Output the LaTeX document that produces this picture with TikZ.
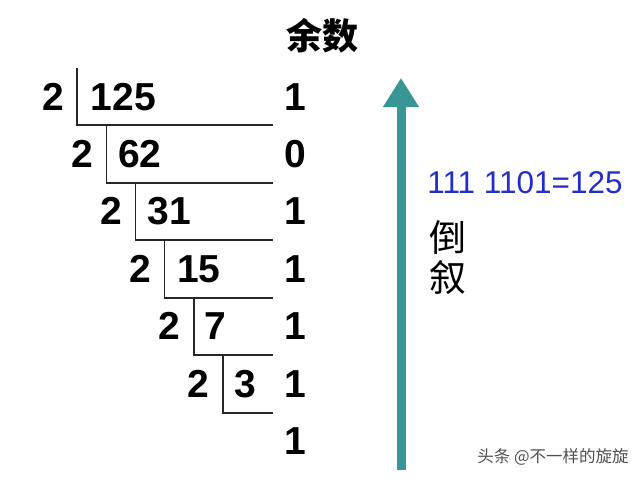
\documentclass[tikz,border=0pt]{standalone}
\usepackage{fontspec}
\setmainfont{Liberation Sans}
\newfontfamily\cjk{Noto Sans CJK SC}
\usetikzlibrary{arrows.meta}
\definecolor{arrowteal}{RGB}{58,150,148}
\definecolor{numblue}{RGB}{35,45,205}
\definecolor{wmgray}{RGB}{80,80,80}
\tikzset{
  big/.style={font=\fontsize{39}{39}\selectfont\bfseries, inner sep=0pt, anchor=base},
  rule/.style={line width=1.4pt, draw=black!85},
}
\begin{document}
\begin{tikzpicture}[x=1pt,y=-1pt]
\useasboundingbox (0,0) rectangle (640,480);
% title
\node[inner sep=0pt, font=\cjk\bfseries\fontsize{36}{36}\selectfont] (title) at (322,36) {余数};
% divisors
\foreach \i in {0,...,5} {
  \node[big] (d\i) at ({53+29*\i},{110+57.4*\i}) {2};
}
% dividends
\node[big] (q0) at (123.5,110) {125};
\node[big] (q1) at (140,167.4) {62};
\node[big] (q2) at (169.5,224.8) {31};
\node[big] (q3) at (199,282.2) {15};
\node[big] (q4) at (215.5,339.6) {7};
\node[big] (q5) at (245.5,397) {3};
% remainders
\node[big] (r0) at (295,110) {1};
\node[big] (r1) at (295,167.4) {0};
\node[big] (r2) at (295,224.8) {1};
\node[big] (r3) at (295,282.2) {1};
\node[big] (r4) at (295,339.6) {1};
\node[big] (r5) at (295,397) {1};
\node[big] (r6) at (295,454.4) {1};
% division rules
\coordinate (t0) at (77,68);
\foreach \i/\yy in {0/125,1/183,2/240,3/298,4/355,5/413} {
  \coordinate (c\i) at ({77+29.2*\i},\yy);
}
\draw[rule] (t0) |- (273,125);
\foreach \i/\p in {1/0,2/1,3/2,4/3,5/4} {
  \draw[rule] (c\i |- c\p) |- (273,0 |- c\i);
}
% arrow
\coordinate (abot) at (401,470);
\coordinate (atop) at (401,78);
\draw[arrowteal, line width=9pt, -{Triangle[width=34pt,length=29pt]}] (abot) -- (atop);
% binary result
\node[inner sep=0pt, anchor=base, text=numblue, font=\fontsize{31.5}{31.5}\selectfont] (bin) at (525,193) {111 1101=125};
% reverse
\node[inner sep=0pt, font=\cjk\fontsize{37}{37}\selectfont] (dao) at (447.5,237.5) {倒};
\node[inner sep=0pt, font=\cjk\fontsize{37}{37}\selectfont] (xu) at (447.5,278) {叙};
% watermark
\node[inner sep=0pt, text=wmgray, font=\cjk\fontsize{16.5}{16.5}\selectfont] (wm) at (553,457) {头条 @不一样的旋旋};
\end{tikzpicture}
\end{document}
